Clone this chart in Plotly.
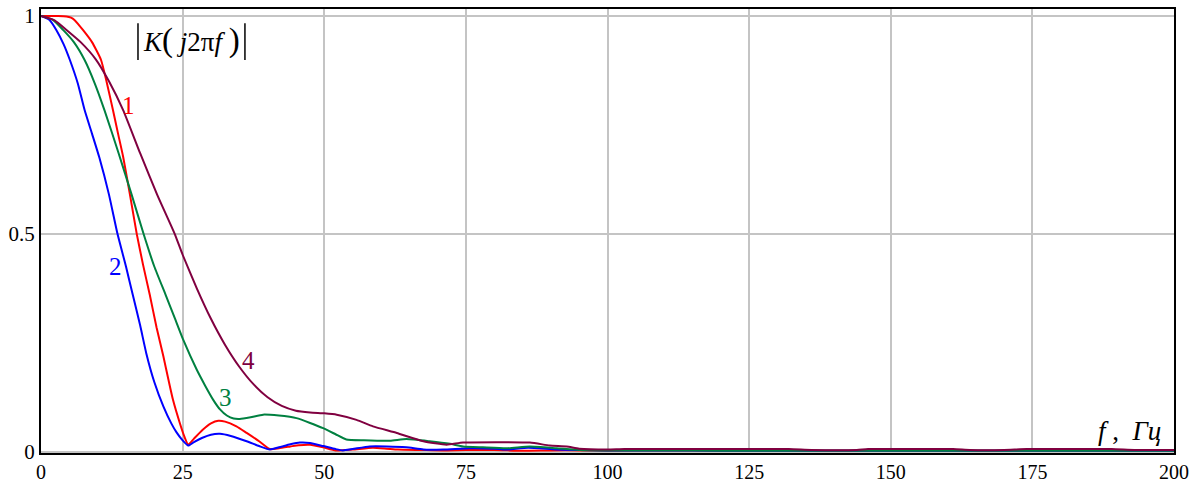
import plotly.graph_objects as go

# Frequency axis values (Hz) and magnitude readings for each filter response
f1 = [0, 3, 4.5, 5.3, 5.9, 7.4, 9, 10.6, 11.6, 12.7, 13.6, 14.5, 15.7, 16.9, 18.0, 19.2, 20.4,
      21.6, 22.5, 23.3, 24.5, 25.3, 26.0, 27, 28.5, 30, 31.3, 32.5, 34.5, 36.3, 38.5, 40.4, 42,
      44, 45.5, 47.5, 49.8, 52, 55, 58.6, 61, 63, 67, 71, 75, 80, 85, 90, 95, 100, 110, 120, 130,
      140, 150, 160, 170, 180, 190, 200]
k1 = [1.0, 1.0, 0.999, 0.996, 0.991, 0.968, 0.94, 0.899, 0.848, 0.784, 0.73, 0.677, 0.59, 0.50,
      0.43, 0.36, 0.285, 0.219, 0.165, 0.119, 0.066, 0.035, 0.016, 0.03, 0.05, 0.065, 0.071,
      0.069, 0.058, 0.043, 0.024, 0.006, 0.008, 0.012, 0.015, 0.016, 0.010, 0.003, 0.005, 0.009,
      0.007, 0.005, 0.004, 0.003, 0.004, 0.004, 0.002, 0.003, 0.003, 0.002, 0.003, 0.002, 0.002,
      0.002, 0.002, 0.002, 0.002, 0.002, 0.002, 0.002]

f2 = [0, 1.5, 2.7, 4, 5.1, 6.5, 7.7, 9, 10.3, 12, 13.5, 15, 16.2, 17.5, 18.6, 20, 21.6, 23, 23.9,
      25, 26, 27, 28.5, 30, 31.6, 33.5, 36.3, 38.5, 40.4, 42, 44, 45.7, 47.5, 49.8, 52, 53.3, 55,
      58, 61, 64.5, 67.5, 71, 75.7, 80, 82, 86, 91, 95, 100, 110, 120, 130, 140, 150, 160, 170,
      180, 190, 200]
k2 = [1.0, 0.991, 0.968, 0.935, 0.899, 0.845, 0.784, 0.73, 0.675, 0.59, 0.50, 0.425, 0.36, 0.29,
      0.225, 0.16, 0.104, 0.065, 0.045, 0.026, 0.014, 0.022, 0.032, 0.039, 0.041, 0.036, 0.024,
      0.013, 0.005, 0.01, 0.017, 0.021, 0.02, 0.013, 0.006, 0.003, 0.006, 0.012, 0.012, 0.010,
      0.005, 0.005, 0.008, 0.007, 0.005, 0.009, 0.005, 0.004, 0.003, 0.003, 0.002, 0.002, 0.002,
      0.002, 0.002, 0.002, 0.002, 0.002, 0.002]

f3 = [0, 2.1, 3.9, 5.8, 7.7, 9.5, 11.2, 13.7, 16, 18.1, 20, 22.0, 23.6, 25.1, 27.5, 29.0, 30.4,
      31.6, 32.8, 34.0, 35.1, 37, 39.2, 42, 43.9, 45.1, 47.5, 49.8, 52, 53.9, 57, 61.6, 64.5,
      68.6, 72.2, 74.5, 78, 82.2, 86.3, 91, 95, 100, 110, 120, 130, 140, 150, 160, 170, 180, 190,
      200]
k3 = [1.0, 0.991, 0.968, 0.94, 0.899, 0.845, 0.784, 0.685, 0.59, 0.50, 0.425, 0.36, 0.307, 0.257,
      0.188, 0.151, 0.119, 0.097, 0.083, 0.076, 0.075, 0.079, 0.085, 0.083, 0.080, 0.077, 0.066,
      0.054, 0.04, 0.028, 0.026, 0.025, 0.029, 0.024, 0.018, 0.012, 0.01, 0.008, 0.012, 0.008,
      0.004, 0.003, 0.003, 0.002, 0.002, 0.002, 0.002, 0.002, 0.002, 0.002, 0.002, 0.002]

f4 = [0, 2.4, 4.5, 7, 9.7, 12, 14.5, 17.5, 20.5, 23.6, 25, 27.5, 30, 32.5, 35, 37.5, 40, 42.5,
      45, 47.5, 50, 52.2, 55.7, 58.6, 62.8, 67.5, 71.6, 74.5, 86.3, 89.8, 92.8, 95, 100, 103,
      132, 136, 144, 146, 161, 164, 170, 174, 189, 193, 200]
k4 = [1.0, 0.99, 0.968, 0.94, 0.9, 0.85, 0.784, 0.685, 0.59, 0.50, 0.452, 0.375, 0.305, 0.245,
      0.195, 0.155, 0.125, 0.105, 0.094, 0.09, 0.088, 0.085, 0.073, 0.058, 0.043, 0.024, 0.016,
      0.021, 0.021, 0.014, 0.012, 0.007, 0.005, 0.006, 0.006, 0.004, 0.004, 0.006, 0.006, 0.004,
      0.004, 0.006, 0.006, 0.004, 0.004]

series = [
    ("1", f1, k1, "#ff0000"),
    ("2", f2, k2, "#0000ff"),
    ("3", f3, k3, "#008040"),
    ("4", f4, k4, "#800040"),
]

x_ticks = [0, 25, 50, 75, 100, 125, 150, 175, 200]
y_ticks = [0, 0.5, 1]
y_tick_text = ["0", "0.5", "1"]

# Curve labels: (text, frequency, magnitude, colour)
curve_labels = [
    ("1", 15.5, 0.795, "#ff0000"),
    ("2", 13.1, 0.425, "#0000ff"),
    ("3", 32.5, 0.124, "#008040"),
    ("4", 36.6, 0.21, "#800040"),
]

serif = "Liberation Serif, Times New Roman, serif"

fig = go.Figure()
for name, fx, ky, col in series:
    fig.add_trace(go.Scatter(x=fx, y=ky, mode="lines", name=name,
                             line=dict(color=col, width=2, shape="spline", smoothing=0.5),
                             showlegend=False))

for txt, fx, ky, col in curve_labels:
    fig.add_annotation(x=fx, y=ky, text=txt, showarrow=False,
                       font=dict(family=serif, size=25, color=col))

# Axis title of the magnitude axis, framed by modulus bars
fig.add_annotation(xref="paper", yref="paper", x=0.1325, y=0.928, xanchor="center", yanchor="middle",
                   text="<i>K</i><span style=\"font-size:33px\">(</span> <i>j</i>2π<i>f</i> "
                        "<span style=\"font-size:33px\">)</span>",
                   showarrow=False, font=dict(family=serif, size=27, color="black"))
for xb in (0.0856, 0.180):
    fig.add_shape(type="line", xref="paper", yref="paper", x0=xb, x1=xb, y0=0.885, y1=0.968,
                  line=dict(color="black", width=1.5))

# Frequency axis title
fig.add_annotation(xref="paper", yref="paper", x=0.990, y=0.012, xanchor="right", yanchor="bottom",
                   text="<i>f</i> ,  <i>Гц</i>", showarrow=False,
                   font=dict(family=serif, size=27, color="black"))

fig.update_xaxes(range=[0, 200], tickvals=x_ticks, showgrid=True, gridcolor="#c4c4c4", gridwidth=2,
                 showline=True, linecolor="black", linewidth=2, mirror=True, zeroline=False,
                 ticks="", ticklen=0, automargin=False,
                 tickfont=dict(family=serif, size=20, color="black"))
fig.update_yaxes(range=[-0.003, 1.016], tickvals=y_ticks, ticktext=y_tick_text, showgrid=True,
                 gridcolor="#c4c4c4", gridwidth=2, showline=True, linecolor="black", linewidth=2,
                 mirror=True, zeroline=False, ticks="", automargin=False,
                 tickfont=dict(family=serif, size=21, color="black"))

fig.update_layout(width=1204, height=484, margin=dict(l=41, r=30, t=9, b=31),
                  plot_bgcolor="white", paper_bgcolor="white")

fig.write_html("out.html")
